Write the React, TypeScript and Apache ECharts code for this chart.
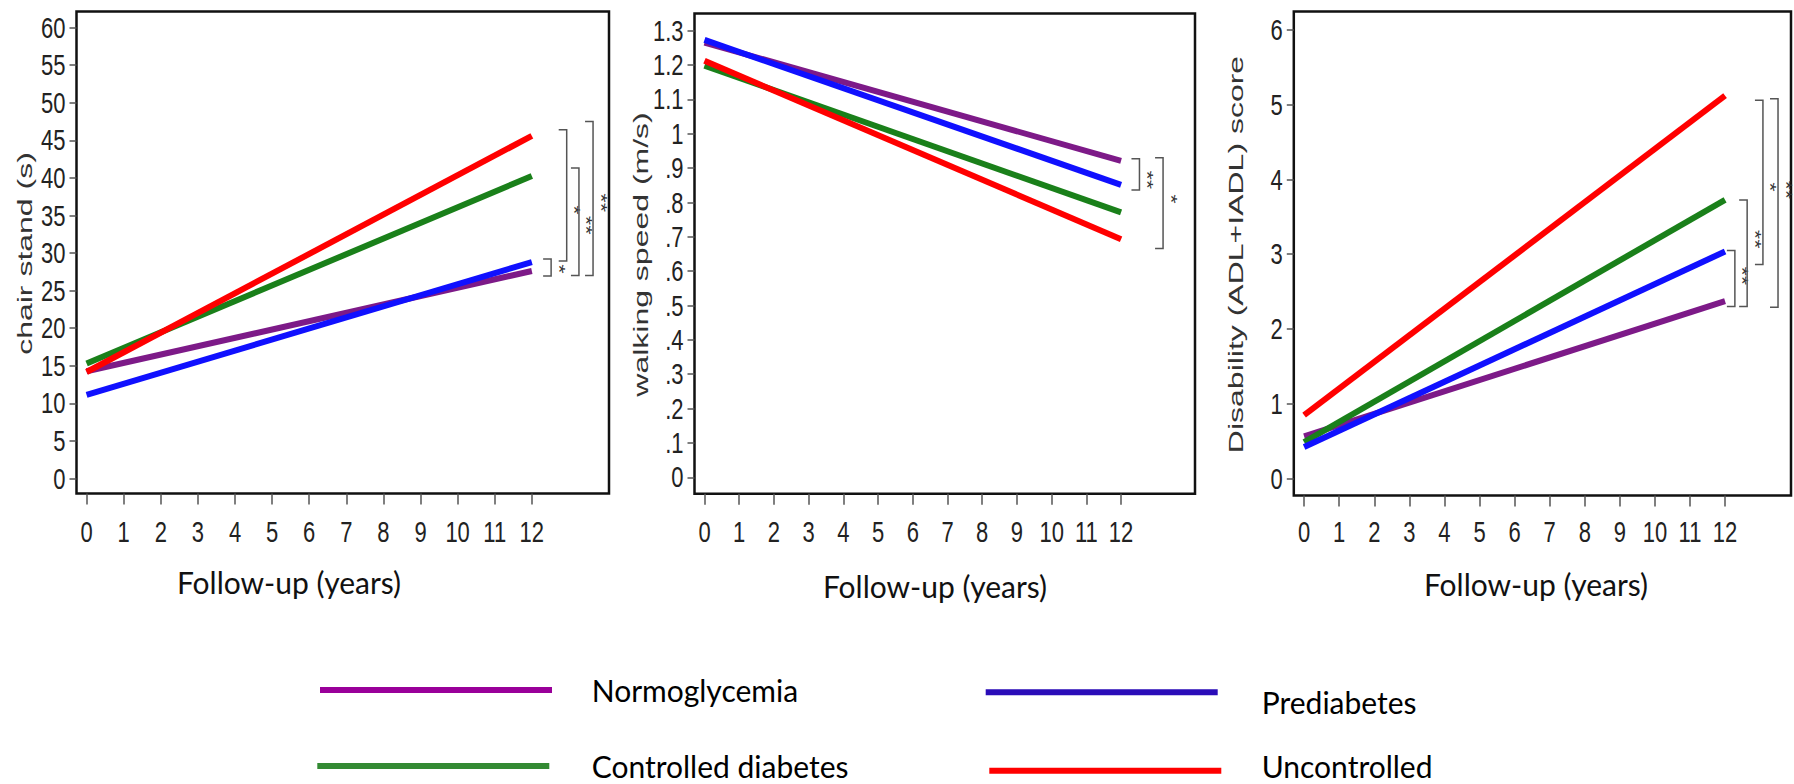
import React, { useEffect, useRef } from "react";
import * as echarts from "echarts";

// ---------- data ----------
const years = [0, 12];
const xTicks = [0, 1, 2, 3, 4, 5, 6, 7, 8, 9, 10, 11, 12];

const groupNames = ["Normoglycemia", "Controlled diabetes", "Prediabetes", "Uncontrolled"];

// chair stand (s)
const chairNormo = [14.26, 27.6];
const chairControlled = [15.28, 40.24];
const chairPre = [11.1, 28.8];
const chairUncontrolled = [14.16, 45.59];
const chairTicks = [0, 5, 10, 15, 20, 25, 30, 35, 40, 45, 50, 55, 60];
const chairTickLabels = ["0", "5", "10", "15", "20", "25", "30", "35", "40", "45", "50", "55", "60"];

// walking speed (m/s)
const walkNormo = [1.265, 0.921];
const walkControlled = [1.198, 0.771];
const walkPre = [1.273, 0.851];
const walkUncontrolled = [1.212, 0.693];
const walkTicks = [0, 0.1, 0.2, 0.3, 0.4, 0.5, 0.6, 0.7, 0.8, 0.9, 1.0, 1.1, 1.2, 1.3];
const walkTickLabels = ["0", ".1", ".2", ".3", ".4", ".5", ".6", ".7", ".8", ".9", "1", "1.1", "1.2", "1.3"];

// disability (ADL+IADL) score
const disNormo = [0.563, 2.37];
const disControlled = [0.486, 3.727];
const disPre = [0.42, 3.036];
const disUncontrolled = [0.845, 5.12];
const disTicks = [0, 1, 2, 3, 4, 5, 6];
const disTickLabels = ["0", "1", "2", "3", "4", "5", "6"];

// significance brackets: [x (years), low value, high value, label value]
const chairBrackets = [
  [12.52, 26.95, 29.2, 27.87],
  [12.94, 28.95, 46.4, 35.73],
  [13.27, 27.0, 41.3, 33.7],
  [13.65, 27.0, 47.5, 36.7],
];
const chairBracketLabels = ["*", "*", "**", "**"];

const walkBrackets = [
  [12.53, 0.836, 0.927, 0.866],
  [13.21, 0.6655, 0.93, 0.81],
];
const walkBracketLabels = ["**", "*"];

const disBrackets = [
  [12.28, 2.3, 3.05, 2.71],
  [12.63, 2.3, 3.725, 3.2],
  [13.08, 2.86, 5.06, 3.9],
  [13.51, 2.29, 5.08, 3.86],
];
const disBracketLabels = ["**", "**", "*", "**"];

// ---------- styles ----------
const lineColors = ["#7d1a88", "#1a801a", "#1010ff", "#ff0000"];
const legendColors = ["#990099", "#338a33", "#2a0cb8", "#ff0000"];
const tickFont = "'Liberation Sans', Arial, sans-serif";
const titleFont = "Lato, 'Open Sans', sans-serif";

export default function App() {
  const ref = useRef<HTMLDivElement>(null);

  useEffect(() => {
    if (!ref.current) return;
    const chart = echarts.init(ref.current, undefined, { renderer: "svg" });

    const grids = [
      { left: 76.5, top: 11.5, width: 532.5, height: 482 },
      { left: 694.5, top: 13.4, width: 500.5, height: 480.3 },
      { left: 1293.8, top: 11.5, width: 497.2, height: 484 },
    ];
    const xRanges = [
      [-0.272, 14.08],
      [-0.288, 14.13],
      [-0.294, 13.88],
    ];
    const yRanges = [
      [-2.01, 62.14],
      [-0.0477, 1.35],
      [-0.229, 6.246],
    ];
    const yTickSets = [chairTicks, walkTicks, disTicks];
    const yTickLabelSets = [chairTickLabels, walkTickLabels, disTickLabels];
    const panelData = [
      [chairNormo, chairControlled, chairPre, chairUncontrolled],
      [walkNormo, walkControlled, walkPre, walkUncontrolled],
      [disNormo, disControlled, disPre, disUncontrolled],
    ];
    const bracketSets = [chairBrackets, walkBrackets, disBrackets];
    const bracketLabelSets = [chairBracketLabels, walkBracketLabels, disBracketLabels];

    const xAxes = grids.map((_, i) => ({
      type: "value",
      gridIndex: i,
      min: xRanges[i][0],
      max: xRanges[i][1],
      axisLine: { show: false, onZero: false },
      splitLine: { show: false },
      axisTick: {
        show: true,
        length: 11,
        customValues: xTicks,
        lineStyle: { color: "#555", width: 1.5 },
      },
      axisLabel: { show: false },
    }));

    const yAxes = grids.map((_, i) => ({
      type: "value",
      gridIndex: i,
      min: yRanges[i][0],
      max: yRanges[i][1],
      axisLine: { show: false, onZero: false },
      splitLine: { show: false },
      axisTick: {
        show: true,
        length: 7,
        customValues: yTickSets[i],
        lineStyle: { color: "#555", width: 1.5 },
      },
      axisLabel: { show: false },
    }));

    const tickTextStyle = (text: string, align: string) => ({
      text,
      fontSize: 22,
      fontFamily: tickFont,
      fill: "#222",
      align,
      verticalAlign: "middle",
    });

    const series: any[] = [];
    panelData.forEach((groups, pi) => {
      groups.forEach((vals, gi) => {
        series.push({
          type: "line",
          name: groupNames[gi],
          xAxisIndex: pi,
          yAxisIndex: pi,
          data: years.map((x, k) => [x, vals[k]]),
          showSymbol: false,
          symbol: "none",
          color: lineColors[gi],
          lineStyle: { color: lineColors[gi], width: 6 },
          silent: true,
        });
      });

      // x tick labels (tall, narrow digits) placed through the axis scale
      series.push({
        type: "custom",
        xAxisIndex: pi,
        yAxisIndex: pi,
        silent: true,
        clip: false,
        data: xTicks.map((v) => [v]),
        renderItem: (params: any, api: any) => {
          const p = api.coord([api.value(0), yRanges[pi][0]]);
          return {
            type: "text",
            x: p[0],
            y: 531.7,
            scaleY: 1.32,
            style: tickTextStyle(String(xTicks[params.dataIndex]), "center"),
          };
        },
      });

      // y tick labels
      const yt = yTickSets[pi];
      const ytl = yTickLabelSets[pi];
      series.push({
        type: "custom",
        xAxisIndex: pi,
        yAxisIndex: pi,
        silent: true,
        clip: false,
        data: yt.map((v) => [v]),
        renderItem: (params: any, api: any) => {
          const p = api.coord([xRanges[pi][0], api.value(0)]);
          return {
            type: "text",
            x: p[0] - 11,
            y: p[1],
            scaleY: 1.32,
            style: tickTextStyle(ytl[params.dataIndex], "right"),
          };
        },
      });

      // significance brackets
      const brackets = bracketSets[pi];
      const labels = bracketLabelSets[pi];
      series.push({
        type: "custom",
        xAxisIndex: pi,
        yAxisIndex: pi,
        silent: true,
        clip: false,
        data: brackets.map((b) => [b[0], b[1], b[2], b[3]]),
        renderItem: (params: any, api: any) => {
          const x = api.value(0);
          const top = api.coord([x, api.value(2)]);
          const bot = api.coord([x, api.value(1)]);
          const star = api.coord([x, api.value(3)]);
          const tick = 8;
          return {
            type: "group",
            children: [
              {
                type: "polyline",
                shape: {
                  points: [
                    [top[0] - tick, top[1]],
                    [top[0], top[1]],
                    [bot[0], bot[1]],
                    [bot[0] - tick, bot[1]],
                  ],
                },
                style: { stroke: "#555", lineWidth: 1.5, fill: "none" },
              },
              {
                type: "text",
                x: top[0] + 7,
                y: star[1],
                rotation: -Math.PI / 2,
                scaleX: 1.5,
                style: {
                  text: labels[params.dataIndex],
                  fontSize: 16,
                  fontFamily: tickFont,
                  fill: "#333",
                  align: "center",
                  verticalAlign: "middle",
                },
              },
            ],
          };
        },
      });
    });

    const yNames = [
      { text: "chair stand (s)", x: 25, y: 253.5 },
      { text: "walking speed (m/s)", x: 641, y: 254.5 },
      { text: "Disability (ADL+IADL) score", x: 1236, y: 254.5 },
    ];
    const xNames = [
      { x: 289, y: 582 },
      { x: 935, y: 585.5 },
      { x: 1536, y: 583.6 },
    ];

    const graphic: any[] = [
      ...yNames.map((n) => ({
        type: "text",
        x: n.x,
        y: n.y,
        rotation: Math.PI / 2,
        scaleX: 1.6,
        silent: true,
        style: {
          text: n.text,
          fontSize: 20,
          fontFamily: tickFont,
          fill: "#333",
          align: "center",
          verticalAlign: "middle",
        },
      })),
      ...xNames.map((n) => ({
        type: "text",
        x: n.x,
        y: n.y,
        silent: true,
        style: {
          text: "Follow-up (years)",
          fontSize: 30,
          fontFamily: titleFont,
          fill: "#111",
          align: "center",
          verticalAlign: "middle",
        },
      })),
    ];

    // icons whose bar sits at the top / bottom of the item box, so the text can sit off-centre
    const barIcon = "rect";
    const lowBarIcon = "path://M0,0H232V6H0Z M0,24.9H0.1V25H0Z";
    const highBarIcon = "path://M0,0H0.1V0.1H0Z M0,10H232V16H0Z";
    const legendLayout = [
      { name: "Normoglycemia", left: 320, top: 690 - 15, icon: barIcon, h: 6, pad: 34.7 },
      { name: "Controlled diabetes", left: 317.3, top: 766 - 15, icon: barIcon, h: 6, pad: 37.4 },
      { name: "Prediabetes", left: 985.7, top: 692.3 - 5.5, icon: lowBarIcon, h: 25, pad: 39 },
      { name: "Uncontrolled", left: 989.3, top: 770.7 - 20, icon: highBarIcon, h: 16, pad: 35.4 },
    ];
    const legends = legendLayout.map((l) => {
      const gi = groupNames.indexOf(l.name);
      return {
        show: true,
        orient: "horizontal",
        left: l.left,
        top: l.top,
        padding: 0,
        itemWidth: 232,
        itemHeight: l.h,
        icon: l.icon,
        selectedMode: false,
        data: [{ name: l.name, icon: l.icon, itemStyle: { color: legendColors[gi] } }],
        textStyle: {
          fontFamily: titleFont,
          fontSize: 30,
          lineHeight: 30,
          color: "#000",
          padding: [0, 0, 0, l.pad],
        },
      };
    });

    chart.setOption({
      animation: false,
      backgroundColor: "#ffffff",
      grid: grids.map((g) => ({
        ...g,
        show: true,
        borderColor: "#111",
        borderWidth: 2.5,
        backgroundColor: "transparent",
      })),
      xAxis: xAxes,
      yAxis: yAxes,
      legend: legends,
      series,
      graphic,
    });

    return () => chart.dispose();
  }, []);

  return (
    <div
      ref={ref}
      style={{ position: "absolute", left: 0, top: 0, width: 1794, height: 784 }}
    />
  );
}
